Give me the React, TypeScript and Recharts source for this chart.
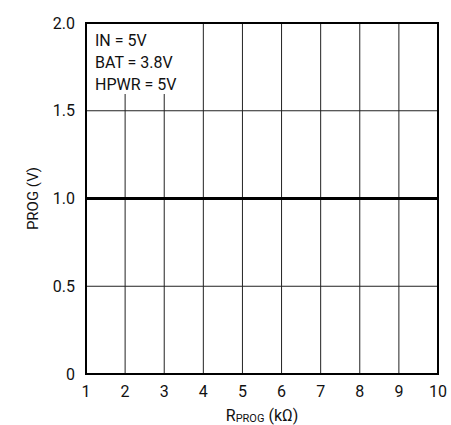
import React from 'react';
import { LineChart, Line, XAxis, YAxis, CartesianGrid, ReferenceArea } from 'recharts';

const rProg = [1, 2, 3, 4, 5, 6, 7, 8, 9, 10];
const progVolts = [1, 1, 1, 1, 1, 1, 1, 1, 1, 1];
const xTicks = [1, 2, 3, 4, 5, 6, 7, 8, 9, 10];
const yTicks = [0, 0.5, 1, 1.5, 2];
const conditions = ['IN = 5V', 'BAT = 3.8V', 'HPWR = 5V'];

const data = rProg.map((r, i) => ({ r, v: progVolts[i] }));

const FONT = 'Roboto, "Liberation Sans", sans-serif';

const App: React.FC = () => {
  return (
    <div
      style={{
        position: 'fixed',
        left: 0,
        top: 0,
        width: 451,
        height: 425,
        background: '#fff',
        fontFamily: FONT,
      }}
    >
      <LineChart
        width={451}
        height={425}
        data={data}
        margin={{ top: 23, right: 13, bottom: 21, left: 26 }}
        style={{ fontFamily: FONT }}
      >
        <CartesianGrid stroke="#222" strokeWidth={1} vertical horizontal />
        <XAxis
          dataKey="r"
          type="number"
          domain={[1, 10]}
          ticks={xTicks}
          height={30}
          axisLine={false}
          tickLine={false}
          tickSize={0}
          tickMargin={12}
          tick={{ fill: '#111', fontSize: 16 }}
          label={{
            content: ({ viewBox }: any) => (
              <text
                x={viewBox.x + viewBox.width / 2}
                y={viewBox.y + 47}
                textAnchor="middle"
                fill="#111"
                fontSize={16}
              >
                R<tspan fontSize={11} dy={1}>PROG</tspan>
                <tspan dy={-1}> (kΩ)</tspan>
              </text>
            ),
          }}
        />
        <YAxis
          type="number"
          domain={[0, 2]}
          ticks={yTicks}
          width={60}
          axisLine={false}
          tickLine={false}
          tickSize={0}
          tickMargin={11}
          tick={{ fill: '#111', fontSize: 16 }}
          tickFormatter={(v: number) => (v === 0 ? '0' : v.toFixed(1))}
          label={{
            content: ({ viewBox }: any) => {
              const cx = 33;
              const cy = viewBox.y + viewBox.height / 2;
              return (
                <text
                  x={cx}
                  y={cy}
                  transform={`rotate(-90 ${cx} ${cy})`}
                  textAnchor="middle"
                  dominantBaseline="central"
                  fill="#111"
                  fontSize={15}
                >
                  PROG (V)
                </text>
              );
            },
          }}
        />
        <ReferenceArea x1={1} x2={3.91} y1={1.595} y2={2} fill="#fff" fillOpacity={1} stroke="none" />
        <Line
          type="linear"
          dataKey="v"
          stroke="#000"
          strokeWidth={3}
          dot={false}
          isAnimationActive={false}
        />
        <ReferenceArea x1={1} x2={10} y1={0} y2={2} fill="none" stroke="#000" strokeWidth={2} />
      </LineChart>
      <div
        style={{
          position: 'absolute',
          left: 95,
          top: 30,
          fontSize: 16,
          lineHeight: '22px',
          color: '#111',
        }}
      >
        {conditions.map((c) => (
          <div key={c}>{c}</div>
        ))}
      </div>
    </div>
  );
};

export default App;
